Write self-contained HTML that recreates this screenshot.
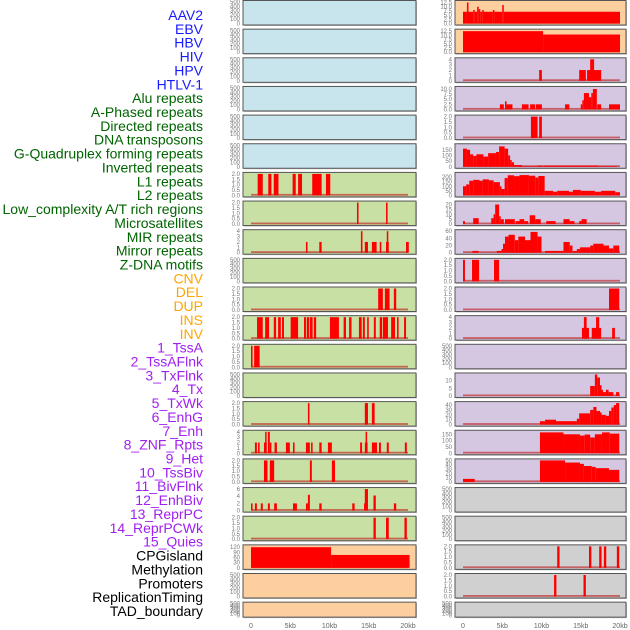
<!DOCTYPE html>
<html><head><meta charset="utf-8">
<style>
html,body{margin:0;padding:0;background:#fff;}
#wrap{position:relative;width:630px;height:630px;overflow:hidden;}
svg{position:absolute;left:0;top:0;}
text{font-family:"Liberation Sans",sans-serif;}
</style></head>
<body>
<div id="wrap">
<svg id="chart" width="630" height="630" viewBox="0 0 630 630"></svg>
</div>
<script>
const trackLabels = ["AAV2","EBV","HBV","HIV","HPV","HTLV-1","Alu repeats","A-Phased repeats","Directed repeats","DNA transposons","G-Quadruplex forming repeats","Inverted repeats","L1 repeats","L2 repeats","Low_complexity A/T rich regions","Microsatellites","MIR repeats","Mirror repeats","Z-DNA motifs","CNV","DEL","DUP","INS","INV","1_TssA","2_TssAFlnk","3_TxFlnk","4_Tx","5_TxWk","6_EnhG","7_Enh","8_ZNF_Rpts","9_Het","10_TssBiv","11_BivFlnk","12_EnhBiv","13_ReprPC","14_ReprPCWk","15_Quies","CPGisland","Methylation","Promoters","ReplicationTiming","TAD_boundary"];
const labelColors = ["#1a1aff","#1a1aff","#1a1aff","#1a1aff","#1a1aff","#1a1aff",
"#006400","#006400","#006400","#006400","#006400","#006400","#006400","#006400","#006400","#006400","#006400","#006400","#006400",
"#ffa500","#ffa500","#ffa500","#ffa500","#ffa500",
"#a020f0","#a020f0","#a020f0","#a020f0","#a020f0","#a020f0","#a020f0","#a020f0","#a020f0","#a020f0","#a020f0","#a020f0","#a020f0","#a020f0","#a020f0",
"#000","#000","#000","#000","#000"];
const panelBg = ["#c8e4ec","#c8e4ec","#c8e4ec","#c8e4ec","#c8e4ec","#c8e4ec",
"#c8e0a3","#c8e0a3","#c8e0a3","#c8e0a3","#c8e0a3","#c8e0a3","#c8e0a3","#c8e0a3","#c8e0a3","#c8e0a3","#c8e0a3","#c8e0a3","#c8e0a3",
"#fdcf9f","#fdcf9f","#fdcf9f","#fdcf9f","#fdcf9f",
"#d5c6e1","#d5c6e1","#d5c6e1","#d5c6e1","#d5c6e1","#d5c6e1","#d5c6e1","#d5c6e1","#d5c6e1","#d5c6e1","#d5c6e1","#d5c6e1","#d5c6e1","#d5c6e1","#d5c6e1",
"#d0d0d0","#d0d0d0","#d0d0d0","#d0d0d0","#d0d0d0"];
// y-axis maximum per panel (column-major: left 0..21, right 22..43)
const panelYMax = [500,500,500,500,500,500,
2,2,4,500,2,2,2,500,2,4,2,6,2,
125,500,500,
12.8,12.8,4,10.5,2,190,235,22,60,2,
2,4,500,14,44,170,50,500,500,2,2,500];
const panelTicks = [
[0,100,200,300,400,500],[0,100,200,300,400,500],[0,100,200,300,400,500],[0,100,200,300,400,500],[0,100,200,300,400,500],[0,100,200,300,400,500],
[0,0.5,1,1.5,2],[0,0.5,1,1.5,2],[0,1,2,3,4],[0,100,200,300,400,500],[0,0.5,1,1.5,2],[0,0.5,1,1.5,2],[0,0.5,1,1.5,2],[0,100,200,300,400,500],[0,0.5,1,1.5,2],[0,1,2,3,4],[0,0.5,1,1.5,2],[0,2,4,6],[0,0.5,1,1.5,2],
[0,30,60,90,120],[0,100,200,300,400,500],[0,100,200,300,400,500],
[0,2.5,5,7.5,10,12.5],[0,2.5,5,7.5,10,12.5],[0,1,2,3,4],[0,2.5,5,7.5,10],[0,0.5,1,1.5,2],[0,50,100,150],[0,50,100,150,200],[0,5,10,15,20],[0,20,40,60],[0,0.5,1,1.5,2],
[0,0.5,1,1.5,2],[0,1,2,3,4],[0,100,200,300,400,500],[0,5,10],[0,10,20,30,40],[0,50,100,150],[0,10,20,30,40,50],[0,100,200,300,400,500],[0,100,200,300,400,500],[0,0.5,1,1.5,2],[0,0.5,1,1.5,2],[0,100,200,300,400,500]];
const tickDecimals = [0,0,0,0,0,0, 1,1,0,0,1,1,1,0,1,0,1,0,1, 0,0,0, 1,1,0,1,1,0,0,0,0,1, 1,0,0,0,0,0,0,0,0,1,1,0];
// bar segments per panel: [startKb, endKb, value]
const panelSegs = [
[],[],[],[],[],[],
[[0.85,1.5,2],[2.2,2.6,2],[2.9,3.5,2],[5.3,5.7,2],[6.0,6.5,2],[7.8,9.0,2],[9.55,10.1,2]],
[[13.5,13.7,2],[17.2,17.4,2]],
[[7.0,7.2,2],[8.7,9.0,2],[14.0,14.2,4],[14.5,14.9,2],[15.4,16.0,2],[16.4,16.6,2],[17.2,17.55,2],[17.3,17.45,4],[19.75,20.1,2]],
[],
[[16.2,16.8,2],[17.05,17.65,2],[18.2,18.5,2]],
[[0.77,1.5,2],[1.8,2.3,2],[2.9,3.2,2],[3.45,3.8,2],[3.95,4.2,2],[5.05,6.0,2],[6.75,7.0,2],[7.1,7.4,2],[7.5,7.85,2],[8.0,8.3,2],[10.05,11.2,2],[11.8,12.1,2],[12.5,12.8,2],[13.75,14.1,2],[14.25,14.5,2],[14.8,15.0,2],[15.65,15.9,2],[16.4,16.7,2],[16.8,17.45,2],[17.85,18.35,2],[18.6,18.8,2],[19.5,19.75,2]],
[[0,0.2,2],[0.4,1.1,2]],
[],
[[7.25,7.45,2],[14.5,14.9,2],[15.4,15.75,2]],
[[0.5,0.75,2],[0.9,1.1,2],[1.65,2.0,2],[1.8,1.95,4],[2.15,2.4,4],[2.4,2.6,2],[3.0,3.3,2],[4.45,4.95,2],[5.35,5.55,2],[7.0,7.5,2],[7.65,7.85,2],[8.7,9.0,2],[9.8,10.3,2],[13.9,14.15,2],[14.5,14.85,2],[14.6,14.75,4],[15.4,16.05,2],[16.3,16.55,2],[17.3,17.55,2],[19.6,19.85,2]],
[[1.65,2.1,2],[2.4,2.95,2],[7.5,7.75,2],[10.3,10.7,2]],
[[0,0.2,2],[0.5,0.75,2],[1.25,1.5,2],[2.15,2.4,2],[2.95,3.3,2],[5.35,5.85,2],[7.0,7.25,2],[7.25,7.5,4.4],[8.7,9.0,2],[12.9,13.2,2],[14.4,14.5,2],[14.5,14.9,6],[15.6,15.9,4.2],[18.2,18.5,2]],
[[15.6,15.9,2],[17.2,17.55,2],[19.55,19.85,2]],
[[0,10.2,120],[10.2,20.2,75]],
[],[],
[[0,0.5,7],[0.5,0.7,12.5],[0.7,1.3,7],[1.3,1.5,8],[1.5,1.8,7],[1.8,2.0,10],[2.0,2.2,8.5],[2.2,2.45,7],[2.45,2.6,8],[2.6,3.8,7],[3.8,4.0,8],[4.0,5.0,7],[5.0,5.2,11],[5.2,20,7]],
[[0,10.2,12.5],[10.2,20,10.5]],
[[9.7,10.05,2],[14.8,15.65,2],[15.8,17.6,2],[16.2,16.7,4]],
[[4.7,5.2,2.5],[5.35,5.55,4],[5.55,6.3,2.5],[7.5,8.35,2.5],[8.55,9.2,2.5],[9.3,10.05,2.5],[13.0,13.55,2.5],[15.0,15.2,2.5],[15.2,15.4,4.5],[15.4,16.05,8],[16.05,16.35,6],[16.35,16.55,8],[16.55,17.05,10],[17.1,17.6,2.5],[18.6,20,2.5]],
[[8.65,9.5,2],[9.7,10.05,2]],
[[0,0.5,160],[0.5,0.9,150],[0.9,1.3,110],[1.3,1.7,95],[1.7,2.6,110],[2.6,3.2,90],[3.2,4.2,120],[4.2,4.6,130],[4.6,5.3,180],[5.3,5.75,160],[5.75,6.0,100],[6.0,6.2,60],[6.2,6.5,40],[6.5,7.5,15],[7.5,9.5,5],[9.5,10.1,10],[10.1,10.3,5],[10.3,17.2,10],[17.2,19.6,5]],
[[0,0.4,100],[0.4,0.8,120],[0.8,1.3,160],[1.3,2.1,170],[2.1,2.5,160],[2.5,3.3,175],[3.3,3.9,165],[3.9,4.7,145],[4.7,4.9,100],[4.9,5.3,70],[5.3,5.7,190],[5.7,6.5,220],[6.5,7.2,210],[7.2,8.4,222],[8.4,9.2,215],[9.2,9.6,195],[9.6,10.4,212],[10.4,11.5,50],[11.5,12.0,40],[12.0,13.5,50],[13.5,14.0,40],[14.0,15.0,60],[15.0,16.8,50],[16.8,17.6,40],[17.6,19.4,50],[19.4,20,35]],
[[0,0.25,3],[1.3,2.0,6],[3.6,3.9,6],[3.9,4.1,10],[4.1,4.6,20],[4.6,4.8,8],[4.8,5.2,5],[5.35,6.6,5],[6.7,7.2,3],[7.2,7.8,5],[7.8,8.3,3],[8.5,9.2,9],[9.2,9.9,5],[10.6,11.8,3],[12.8,13.6,5],[13.6,14.2,3],[14.8,15.1,3],[15.1,15.75,5]],
[[1.2,2.0,5],[4.3,4.9,5],[4.9,5.1,10],[5.1,5.35,25],[5.35,5.8,45],[5.8,6.6,50],[6.6,7.05,35],[7.05,7.9,45],[7.9,8.6,35],[8.6,9.5,58],[9.5,10.0,45],[10.45,12.8,5],[12.8,13.6,30],[13.6,13.95,20],[14.0,14.5,5],[14.5,14.9,10],[14.9,16.2,15],[16.2,16.6,20],[16.6,17.9,25],[17.9,18.6,20],[18.6,19.15,12],[19.15,19.9,20]],
[[0,0.25,2],[1.15,2.05,2],[3.95,4.6,2]],
[[18.6,19.9,2]],
[[15.15,16.05,2],[15.4,15.75,4],[16.4,17.6,2],[16.95,17.35,4],[19.0,19.35,2]],
[],
[[16.2,16.8,6.5],[16.8,17.1,14],[17.1,17.45,12],[17.45,17.65,7],[17.65,17.8,4],[17.8,18.2,2.5],[18.2,18.55,4],[18.55,19.15,2.5],[19.5,19.9,2.5]],
[[9.8,10.45,7],[10.45,11.85,10],[11.85,14.5,7],[14.5,14.8,12],[14.8,16.2,23],[16.2,16.6,30],[16.6,17.0,36],[17.0,17.45,28],[17.45,17.65,25],[17.65,18.2,20],[18.2,18.6,18],[18.6,18.9,28],[18.9,19.2,35],[19.2,19.5,40],[19.5,19.9,44]],
[[9.8,12.8,165],[12.8,14.9,150],[14.9,15.5,140],[15.5,16.2,148],[16.2,16.8,125],[16.8,17.7,150],[17.7,18.7,165],[18.7,19.9,155]],
[[0,1.5,7],[9.8,13.0,50],[13.0,14.9,45],[14.9,15.4,42],[15.4,16.4,37],[16.4,16.9,35],[16.9,18.6,32],[18.6,19.9,28]],
[],[],
[[12.0,12.3,2],[16.05,16.35,2],[17.35,17.65,2],[17.95,18.25,2],[19.6,19.9,2]],
[[11.6,11.9,2],[15.35,15.65,2]],
[]
];
const xTickKb = [0,5,10,15,20];
const xTickLabels = ["0","5kb","10kb","15kb","20kb"];

const NS = "http://www.w3.org/2000/svg";
const svg = document.getElementById('chart');
function mk(tag, attrs, parent){
  const e = document.createElementNS(NS, tag);
  for (const k in attrs) e.setAttribute(k, attrs[k]);
  (parent||svg).appendChild(e);
  return e;
}
const ROWS = 22, ROWH = 28.65;
const colX = [243, 455], colW = [173, 171], zeroX = [251, 463], kbPx = 7.85;
function xScale(col, kb){ return zeroX[col] + kb * kbPx; }

// labels
trackLabels.forEach((lab, i) => {
  const t = mk('text', {x: 203, y: 20 + i * 13.86, 'text-anchor': 'end', 'font-size': 14, fill: labelColors[i]});
  t.textContent = lab;
  
  
});

for (let p = 0; p < 44; p++) {
  const col = p < ROWS ? 0 : 1;
  const row = p % ROWS;
  const top = 0.5 + row * ROWH;
  const h = row === ROWS - 1 ? 15 : 24.5;
  const g = mk('g', {});
  
  
  mk('rect', {x: colX[col] + 1, y: top + 1, width: colW[col], height: h, fill: '#999', opacity: 0.6}, g);
  mk('rect', {x: colX[col], y: top, width: colW[col], height: h, fill: panelBg[p], stroke: '#555', 'stroke-width': 1}, g);
  const ymax = panelYMax[p];
  const y0 = top + h - 1.5, y1 = top + 1.5;
  const yScale = v => y0 - (v / ymax) * (y0 - y1);
  // ticks
  panelTicks[p].forEach(tv => {
    const t = mk('text', {x: colX[col] - 3, y: yScale(tv) + 2, 'text-anchor': 'end', 'font-size': 6, fill: '#777'}, g);
    t.textContent = tv.toFixed(tickDecimals[p]);
    
    
  });
  const segs = panelSegs[p];
  if (segs.length) {
    const bl = mk('rect', {x: xScale(col, 0), y: y0 - 1.5, width: xScale(col, 20) - xScale(col, 0), height: 1.8, fill: '#c03030', opacity: 0.7}, g);
    
    
  }
  segs.forEach(s => {
    const xa = xScale(col, s[0]), xb = xScale(col, s[1]);
    const r = mk('rect', {x: xa, y: yScale(s[2]), width: Math.max(1.5, xb - xa), height: y0 - yScale(s[2]), fill: '#ff0000'}, g);
    
    
  });
}
// x axes
for (let col = 0; col < 2; col++) {
  xTickKb.forEach((kb, i) => {
    const t = mk('text', {x: xScale(col, kb), y: 628, 'text-anchor': 'middle', 'font-size': 7, fill: '#666'});
    t.textContent = xTickLabels[i];
    
    
  });
}
</script>
</body></html>
